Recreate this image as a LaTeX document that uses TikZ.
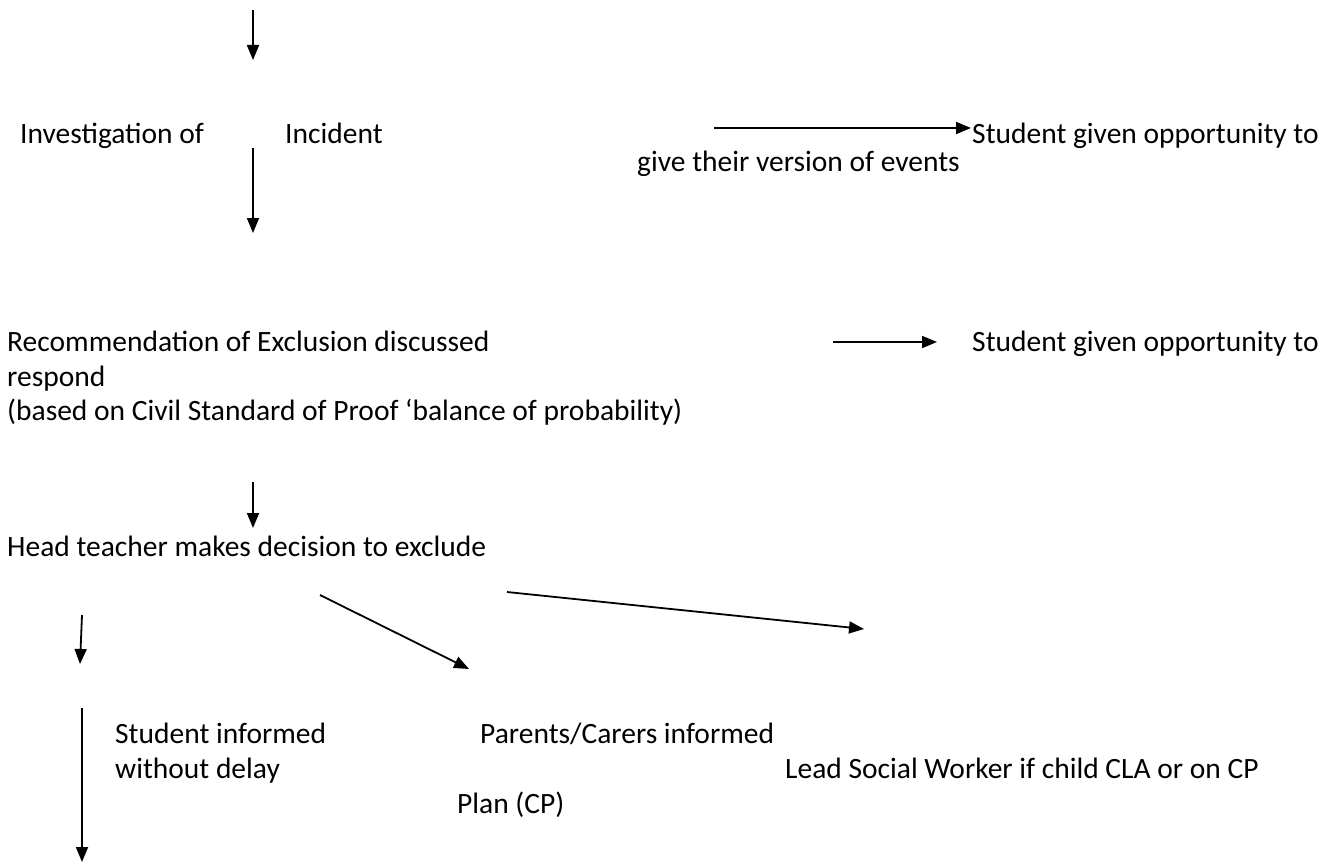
\documentclass[tikz,border=0pt]{standalone}
\usepackage{fontspec}
\setmainfont{Carlito}
\usetikzlibrary{arrows.meta}
\begin{document}
\begin{tikzpicture}[x=1pt,y=-1pt,
  txt/.style={anchor=mid west,inner sep=0pt,font=\fontsize{29.5}{35}\selectfont},
  arr/.style={line width=1.8pt,-{Triangle[length=15pt,width=12pt]}}]
\useasboundingbox (0,0) rectangle (1330,867);
% texts
\node[txt] (inv) at (20,141) {Investigation of};
\node[txt] (inc) at (285,141) {Incident};
\node[txt] (sgo1) at (972,141) {Student given opportunity to};
\node[txt] (give) at (637,169) {give their version of events};
\node[txt] (rec) at (7,349) {Recommendation of Exclusion discussed};
\node[txt] (sgo2) at (972,349) {Student given opportunity to};
\node[txt] (resp) at (7,384) {respond};
\node[txt] (based) at (7,418) {(based on Civil Standard of Proof ‘balance of probability)};
\node[txt] (head) at (7,554) {Head teacher makes decision to exclude};
\node[txt] (stud) at (115,741) {Student informed};
\node[txt] (wod) at (115,776) {without delay};
\node[txt] (par) at (480,741) {Parents/Carers informed};
\node[txt] (lead) at (785,776) {Lead Social Worker if child CLA or on CP};
\node[txt] (plan) at (457,811) {Plan (CP)};
% arrow ends
\coordinate (a1s) at (253,10);  \coordinate (a1e) at (253,60);
\coordinate (a2s) at (253,148); \coordinate (a2e) at (253,233);
\coordinate (a3s) at (714,128); \coordinate (a3e) at (971,128);
\coordinate (a4s) at (833,342); \coordinate (a4e) at (937,342);
\coordinate (a5s) at (253,482); \coordinate (a5e) at (253,528);
\coordinate (a6s) at (507,592); \coordinate (a6e) at (864,629);
\coordinate (a7s) at (320,595); \coordinate (a7e) at (469,669);
\coordinate (a8s) at (82,615);  \coordinate (a8e) at (80,664);
\coordinate (a9s) at (82,708);  \coordinate (a9e) at (82,862);
\draw[arr] (a1s) -- (a1e);
\draw[arr] (a2s) -- (a2e);
\draw[arr] (a3s) -- (a3e);
\draw[arr] (a4s) -- (a4e);
\draw[arr] (a5s) -- (a5e);
\draw[arr] (a6s) -- (a6e);
\draw[arr] (a7s) -- (a7e);
\draw[arr] (a8s) -- (a8e);
\draw[arr] (a9s) -- (a9e);
\end{tikzpicture}
\end{document}
